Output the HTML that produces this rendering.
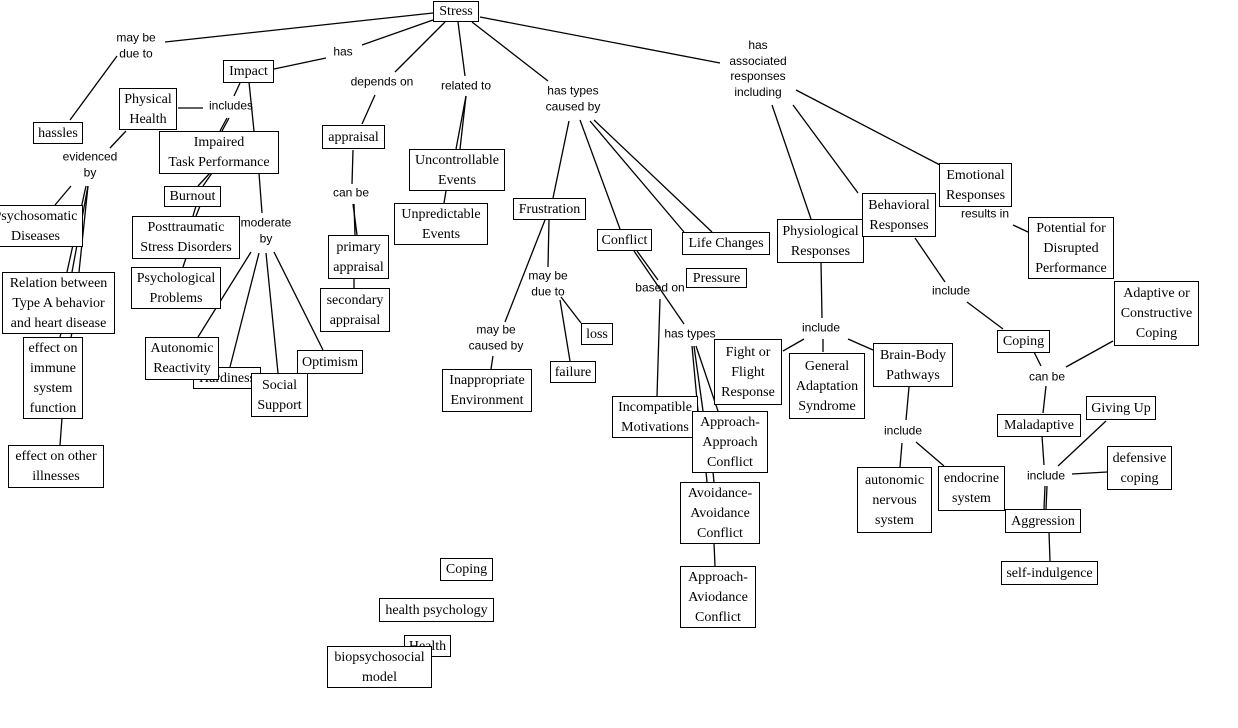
<!DOCTYPE html>
<html><head><meta charset="utf-8">
<style>
html,body{margin:0;padding:0;background:#fff;}
#c{position:relative;width:1238px;height:728px;overflow:hidden;background:#fff;}
svg{position:absolute;left:0;top:0;}
.b{position:absolute;box-sizing:border-box;border:1px solid #000;background:#fff;display:flex;align-items:center;justify-content:center;text-align:center;font-family:"Liberation Serif",serif;font-size:14px;line-height:20px;color:#000;white-space:nowrap;padding-top:1px;}
.l{position:absolute;font-family:"Liberation Sans",sans-serif;font-size:12px;line-height:15.5px;text-align:center;color:#000;transform:translate(-50%,-50%);white-space:nowrap;}
</style></head><body><div id="c">
<svg width="1238" height="728" stroke="#000" stroke-width="1.3" fill="none">
<line x1="433" y1="13" x2="165" y2="42"/>
<line x1="117" y1="56" x2="70" y2="120"/>
<line x1="433" y1="20" x2="362" y2="45"/>
<line x1="326" y1="58" x2="274" y2="69"/>
<line x1="445" y1="22" x2="395" y2="72"/>
<line x1="375" y1="95" x2="362" y2="124"/>
<line x1="458" y1="22" x2="465" y2="76"/>
<line x1="466" y1="96" x2="456" y2="149"/>
<line x1="466" y1="96" x2="460" y2="149"/>
<line x1="446" y1="191" x2="444" y2="203"/>
<line x1="472" y1="22" x2="548" y2="81"/>
<line x1="569" y1="121" x2="553" y2="198"/>
<line x1="580" y1="120" x2="620" y2="229"/>
<line x1="590" y1="121" x2="684" y2="232"/>
<line x1="594" y1="120" x2="712" y2="232"/>
<line x1="480" y1="17" x2="720" y2="63"/>
<line x1="772" y1="105" x2="811" y2="219"/>
<line x1="793" y1="105" x2="858" y2="193"/>
<line x1="796" y1="90" x2="940" y2="165"/>
<line x1="240" y1="83" x2="234" y2="96"/>
<line x1="178" y1="108" x2="203" y2="108"/>
<line x1="229" y1="118" x2="222" y2="131"/>
<line x1="227" y1="118" x2="220" y2="131"/>
<line x1="210" y1="173" x2="198" y2="186"/>
<line x1="212" y1="173" x2="203" y2="186"/>
<line x1="196" y1="206" x2="193" y2="216"/>
<line x1="200" y1="206" x2="196" y2="216"/>
<line x1="186" y1="258" x2="183" y2="267"/>
<line x1="249" y1="82" x2="254" y2="131"/>
<line x1="259" y1="173" x2="262" y2="213"/>
<line x1="251" y1="252" x2="198" y2="337"/>
<line x1="259" y1="253" x2="230" y2="367"/>
<line x1="266" y1="253" x2="278" y2="373"/>
<line x1="274" y1="252" x2="323" y2="350"/>
<line x1="126" y1="131" x2="110" y2="148"/>
<line x1="71" y1="186" x2="55" y2="205"/>
<line x1="86" y1="186" x2="67" y2="272"/>
<line x1="88" y1="186" x2="72" y2="272"/>
<line x1="88" y1="186" x2="79" y2="272"/>
<line x1="61" y1="333" x2="60" y2="337"/>
<line x1="72" y1="333" x2="71" y2="337"/>
<line x1="62" y1="418" x2="60" y2="445"/>
<line x1="353" y1="150" x2="352" y2="184"/>
<line x1="353" y1="204" x2="357" y2="235"/>
<line x1="354" y1="204" x2="355" y2="235"/>
<line x1="354" y1="278" x2="354" y2="288"/>
<line x1="549" y1="220" x2="548" y2="267"/>
<line x1="545" y1="220" x2="505" y2="322"/>
<line x1="561" y1="297" x2="581" y2="323"/>
<line x1="560" y1="300" x2="570" y2="361"/>
<line x1="493" y1="356" x2="491" y2="369"/>
<line x1="634" y1="251" x2="684" y2="324"/>
<line x1="637" y1="251" x2="658" y2="280"/>
<line x1="660" y1="299" x2="657" y2="396"/>
<line x1="692" y1="346" x2="698" y2="411"/>
<line x1="694" y1="346" x2="703" y2="411"/>
<line x1="696" y1="346" x2="718" y2="411"/>
<line x1="706" y1="472" x2="707" y2="482"/>
<line x1="713" y1="472" x2="714" y2="482"/>
<line x1="714" y1="543" x2="715" y2="566"/>
<line x1="821" y1="262" x2="822" y2="318"/>
<line x1="804" y1="339" x2="783" y2="351"/>
<line x1="823" y1="339" x2="823" y2="352"/>
<line x1="848" y1="339" x2="873" y2="350"/>
<line x1="909" y1="387" x2="906" y2="420"/>
<line x1="902" y1="443" x2="900" y2="467"/>
<line x1="916" y1="442" x2="944" y2="466"/>
<line x1="1013" y1="225" x2="1028" y2="232"/>
<line x1="915" y1="238" x2="945" y2="282"/>
<line x1="967" y1="302" x2="1003" y2="329"/>
<line x1="1034" y1="352" x2="1041" y2="366"/>
<line x1="1066" y1="367" x2="1113" y2="341"/>
<line x1="1046" y1="386" x2="1043" y2="413"/>
<line x1="1042" y1="436" x2="1044" y2="465"/>
<line x1="1058" y1="466" x2="1106" y2="421"/>
<line x1="1072" y1="474" x2="1107" y2="472"/>
<line x1="1045" y1="486" x2="1044" y2="509"/>
<line x1="1047" y1="486" x2="1046" y2="509"/>
<line x1="1049" y1="532" x2="1050" y2="561"/>
</svg>

<div class="l" style="left:136px;top:46px">may be<br>due to</div>
<div class="l" style="left:343px;top:52px">has</div>
<div class="l" style="left:382px;top:82px">depends on</div>
<div class="l" style="left:466px;top:86px">related to</div>
<div class="l" style="left:573px;top:99px">has types<br>caused by</div>
<div class="l" style="left:758px;top:69px">has<br>associated<br>responses<br>including</div>
<div class="l" style="left:231px;top:106px">includes</div>
<div class="l" style="left:90px;top:165px">evidenced<br>by</div>
<div class="l" style="left:266px;top:231px">moderate<br>by</div>
<div class="l" style="left:351px;top:193px">can be</div>
<div class="l" style="left:548px;top:284px">may be<br>due to</div>
<div class="l" style="left:496px;top:338px">may be<br>caused by</div>
<div class="l" style="left:660px;top:288px">based on</div>
<div class="l" style="left:690px;top:334px">has types</div>
<div class="l" style="left:821px;top:328px">include</div>
<div class="l" style="left:903px;top:431px">include</div>
<div class="l" style="left:985px;top:214px">results in</div>
<div class="l" style="left:951px;top:291px">include</div>
<div class="l" style="left:1047px;top:377px">can be</div>
<div class="l" style="left:1046px;top:476px">include</div>

<div class="b" style="left:433px;top:1px;width:46px;height:21px">Stress</div>
<div class="b" style="left:223px;top:60px;width:51px;height:23px">Impact</div>
<div class="b" style="left:119px;top:88px;width:58px;height:42px">Physical<br>Health</div>
<div class="b" style="left:33px;top:122px;width:50px;height:22px">hassles</div>
<div class="b" style="left:-12px;top:205px;width:95px;height:42px">Psychosomatic<br>Diseases</div>
<div class="b" style="left:2px;top:272px;width:113px;height:62px">Relation between<br>Type A behavior<br>and heart disease</div>
<div class="b" style="left:23px;top:337px;width:60px;height:82px">effect on<br>immune<br>system<br>function</div>
<div class="b" style="left:8px;top:445px;width:96px;height:43px">effect on other<br>illnesses</div>
<div class="b" style="left:159px;top:131px;width:120px;height:43px">Impaired<br>Task Performance</div>
<div class="b" style="left:164px;top:186px;width:57px;height:21px">Burnout</div>
<div class="b" style="left:132px;top:216px;width:108px;height:43px">Posttraumatic<br>Stress Disorders</div>
<div class="b" style="left:131px;top:267px;width:90px;height:42px">Psychological<br>Problems</div>
<div class="b" style="left:193px;top:367px;width:68px;height:22px">Hardiness</div>
<div class="b" style="left:145px;top:337px;width:74px;height:43px">Autonomic<br>Reactivity</div>
<div class="b" style="left:297px;top:350px;width:66px;height:24px">Optimism</div>
<div class="b" style="left:251px;top:373px;width:57px;height:44px">Social<br>Support</div>
<div class="b" style="left:322px;top:125px;width:63px;height:24px">appraisal</div>
<div class="b" style="left:328px;top:235px;width:61px;height:44px">primary<br>appraisal</div>
<div class="b" style="left:320px;top:288px;width:70px;height:44px">secondary<br>appraisal</div>
<div class="b" style="left:409px;top:149px;width:96px;height:42px">Uncontrollable<br>Events</div>
<div class="b" style="left:394px;top:203px;width:94px;height:42px">Unpredictable<br>Events</div>
<div class="b" style="left:513px;top:198px;width:73px;height:22px">Frustration</div>
<div class="b" style="left:597px;top:229px;width:55px;height:22px">Conflict</div>
<div class="b" style="left:682px;top:232px;width:88px;height:23px">Life Changes</div>
<div class="b" style="left:686px;top:268px;width:61px;height:20px">Pressure</div>
<div class="b" style="left:581px;top:323px;width:32px;height:22px">loss</div>
<div class="b" style="left:550px;top:361px;width:46px;height:22px">failure</div>
<div class="b" style="left:442px;top:369px;width:90px;height:43px">Inappropriate<br>Environment</div>
<div class="b" style="left:612px;top:396px;width:86px;height:42px">Incompatible<br>Motivations</div>
<div class="b" style="left:714px;top:339px;width:68px;height:66px">Fight or<br>Flight<br>Response</div>
<div class="b" style="left:692px;top:411px;width:76px;height:62px">Approach-<br>Approach<br>Conflict</div>
<div class="b" style="left:680px;top:482px;width:80px;height:62px">Avoidance-<br>Avoidance<br>Conflict</div>
<div class="b" style="left:680px;top:566px;width:76px;height:62px">Approach-<br>Aviodance<br>Conflict</div>
<div class="b" style="left:777px;top:219px;width:87px;height:44px">Physiological<br>Responses</div>
<div class="b" style="left:862px;top:193px;width:74px;height:44px">Behavioral<br>Responses</div>
<div class="b" style="left:939px;top:163px;width:73px;height:44px">Emotional<br>Responses</div>
<div class="b" style="left:789px;top:353px;width:76px;height:66px">General<br>Adaptation<br>Syndrome</div>
<div class="b" style="left:873px;top:343px;width:80px;height:44px">Brain-Body<br>Pathways</div>
<div class="b" style="left:857px;top:467px;width:75px;height:66px">autonomic<br>nervous<br>system</div>
<div class="b" style="left:938px;top:466px;width:67px;height:45px">endocrine<br>system</div>
<div class="b" style="left:1028px;top:217px;width:86px;height:62px">Potential for<br>Disrupted<br>Performance</div>
<div class="b" style="left:1114px;top:281px;width:85px;height:65px">Adaptive or<br>Constructive<br>Coping</div>
<div class="b" style="left:997px;top:330px;width:53px;height:23px">Coping</div>
<div class="b" style="left:997px;top:414px;width:84px;height:23px">Maladaptive</div>
<div class="b" style="left:1086px;top:396px;width:70px;height:24px">Giving Up</div>
<div class="b" style="left:1107px;top:446px;width:65px;height:44px">defensive<br>coping</div>
<div class="b" style="left:1005px;top:509px;width:76px;height:24px">Aggression</div>
<div class="b" style="left:1001px;top:561px;width:97px;height:24px">self-indulgence</div>
<div class="b" style="left:440px;top:558px;width:53px;height:23px">Coping</div>
<div class="b" style="left:379px;top:598px;width:115px;height:24px">health psychology</div>
<div class="b" style="left:404px;top:635px;width:47px;height:22px">Health</div>
<div class="b" style="left:327px;top:646px;width:105px;height:42px">biopsychosocial<br>model</div>
</div></body></html>
